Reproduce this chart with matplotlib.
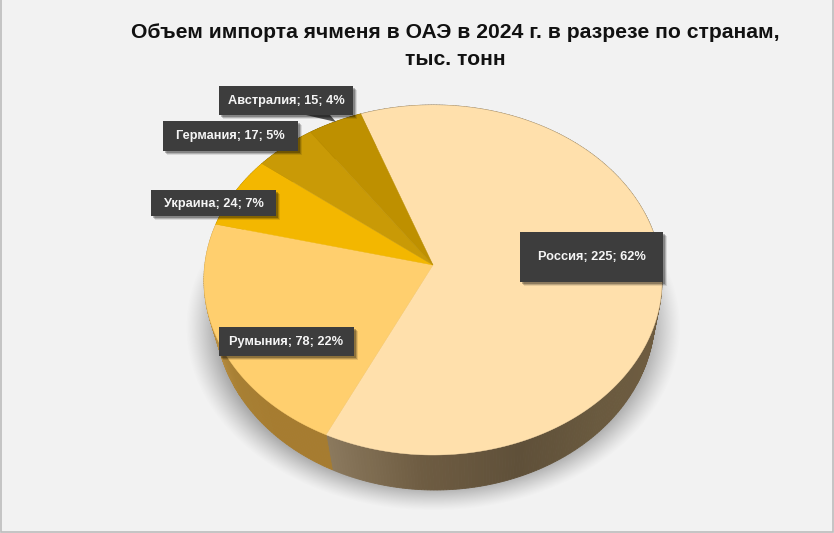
import numpy as np
import matplotlib
matplotlib.use("Agg")
import matplotlib.pyplot as plt
from matplotlib.patches import Polygon, Rectangle
from matplotlib.colors import to_rgb

# Data
categories = ["Россия", "Румыния", "Украина", "Германия", "Австралия"]
values = [225, 78, 24, 17, 15]
percents = [62, 22, 7, 5, 4]
title = "Объем импорта ячменя в ОАЭ в 2024 г. в разрезе по странам,\nтыс. тонн"

# Style
top_colors = ["#FFE0AC", "#FFCF6E", "#F3B700", "#C99A06", "#BE9000"]
side_stops = [
    ["#8C7A5E", "#6E5C42", "#5F5039", "#6A5A3F", "#6E5C40", "#6B5A3E"],
    ["#C9A04C", "#C39A48", "#B68C40", "#A88034", "#A67C30", "#A67C30"],
    ["#A98400"] * 2, ["#8C6E00"] * 2, ["#806400"] * 2,
]
label_boxes = [(520, 232, 663, 282), (219, 327, 354, 356), (151, 190, 276, 216),
               (163, 121, 298, 151), (219, 86, 353, 115)]
CX, CY, K, H, SHIFT, START = 433.0, 280.0, 228.2, 175.0, 15.0, -20.0
C = 30.0 / (2 * H)

plt.rcParams["font.family"] = ["Liberation Sans", "DejaVu Sans"]
fig = plt.figure(figsize=(8.34, 5.33), dpi=100, facecolor="#F2F2F2")
ax = fig.add_axes([0, 0, 1, 1])
ax.axis("off")
ax.add_patch(Rectangle((0.5, -2), 832.5, 534, fc="none", ec="#BDBDBD", lw=1.2, zorder=1))


def project(t_deg, lower=False):
    t = np.radians(np.asarray(t_deg, float))
    u, s = np.cos(t), np.sin(t)
    d = C * u + 1
    x, v = K * s / d, (H * u + SHIFT) / d
    if lower:
        return CX + 2 + x * 0.96, CY + 35 - v
    return CX + x, CY - v


# Soft cast shadow
xx, yy = np.meshgrid(np.arange(834), np.arange(533))
r = np.sqrt(((xx - 433) / 240.0) ** 2 + ((yy - 328) / 178.0) ** 2)
a = np.clip((1.03 - r) / 0.13, 0, 1) ** 1.2 * 0.55
a = a * np.clip((yy - 225) / 60.0, 0, 1)
img = np.zeros((533, 834, 4))
img[..., :3] = 0.45
img[..., 3] = a
ax.imshow(img, extent=(-0.5, 833.5, 532.5, -0.5), aspect="auto", zorder=2, interpolation="bilinear")
ax.set_xlim(0, 834)
ax.set_ylim(533, 0)

# Wedges
total = sum(values)
bounds = START + np.cumsum([0] + values) / total * 360.0

# Side wall
for i in range(len(values)):
    t0, t1 = bounds[i], bounds[i + 1]
    stops = np.array([to_rgb(c) for c in side_stops[i]])
    ts = np.r_[np.arange(t0, t1, 0.75), t1]
    for a0, a1 in zip(ts[:-1], ts[1:]):
        f = (t1 - a0) / (t1 - t0)
        if i == 0:
            f = min(f * 225.0 / 115.0, 1.0)
        pos = f * (len(stops) - 1)
        col = [np.interp(pos, np.arange(len(stops)), stops[:, k]) for k in range(3)]
        tx0, ty0 = project([a0, a1])
        bx0, by0 = project([a1, a0], lower=True)
        ax.add_patch(Polygon(np.c_[np.r_[tx0, bx0], np.r_[ty0, by0]], fc=col, ec=col, lw=0.6, zorder=3))

# Top face
for i in range(len(values)):
    ts = np.linspace(bounds[i], bounds[i + 1], 200)
    x, y = project(ts)
    ax.add_patch(Polygon(np.c_[np.r_[CX, x], np.r_[CY - SHIFT, y]], fc=top_colors[i], ec=top_colors[i], lw=0.3, zorder=4))

# Leader of the Australia label
ax.add_patch(Polygon([(306, 115), (330, 115), (336, 122)], fc="#555555", ec="none", zorder=6))

# Labels
for cat, val, pct, (x0, y0, x1, y1) in zip(categories, values, percents, label_boxes):
    for off, al in ((4, 0.10), (3, 0.18), (2, 0.25)):
        ax.add_patch(Rectangle((x0 + off, y0 + off), x1 - x0, y1 - y0, fc="#000000", alpha=al, ec="none", zorder=7))
    ax.add_patch(Rectangle((x0, y0), x1 - x0, y1 - y0, fc="#3D3D3D", ec="none", zorder=8))
    ax.text((x0 + x1) / 2, (y0 + y1) / 2 + 0.5, f"{cat}; {val}; {pct}%", color="#F5F5F5", fontsize=9.2,
            fontweight="bold", ha="center", va="center", zorder=9)

ax.text(455, 46, title, ha="center", va="center", fontsize=15.2, fontweight="bold", color="#111111",
        linespacing=1.47, zorder=9)

fig.savefig("out.png", dpi=100, facecolor=fig.get_facecolor())
